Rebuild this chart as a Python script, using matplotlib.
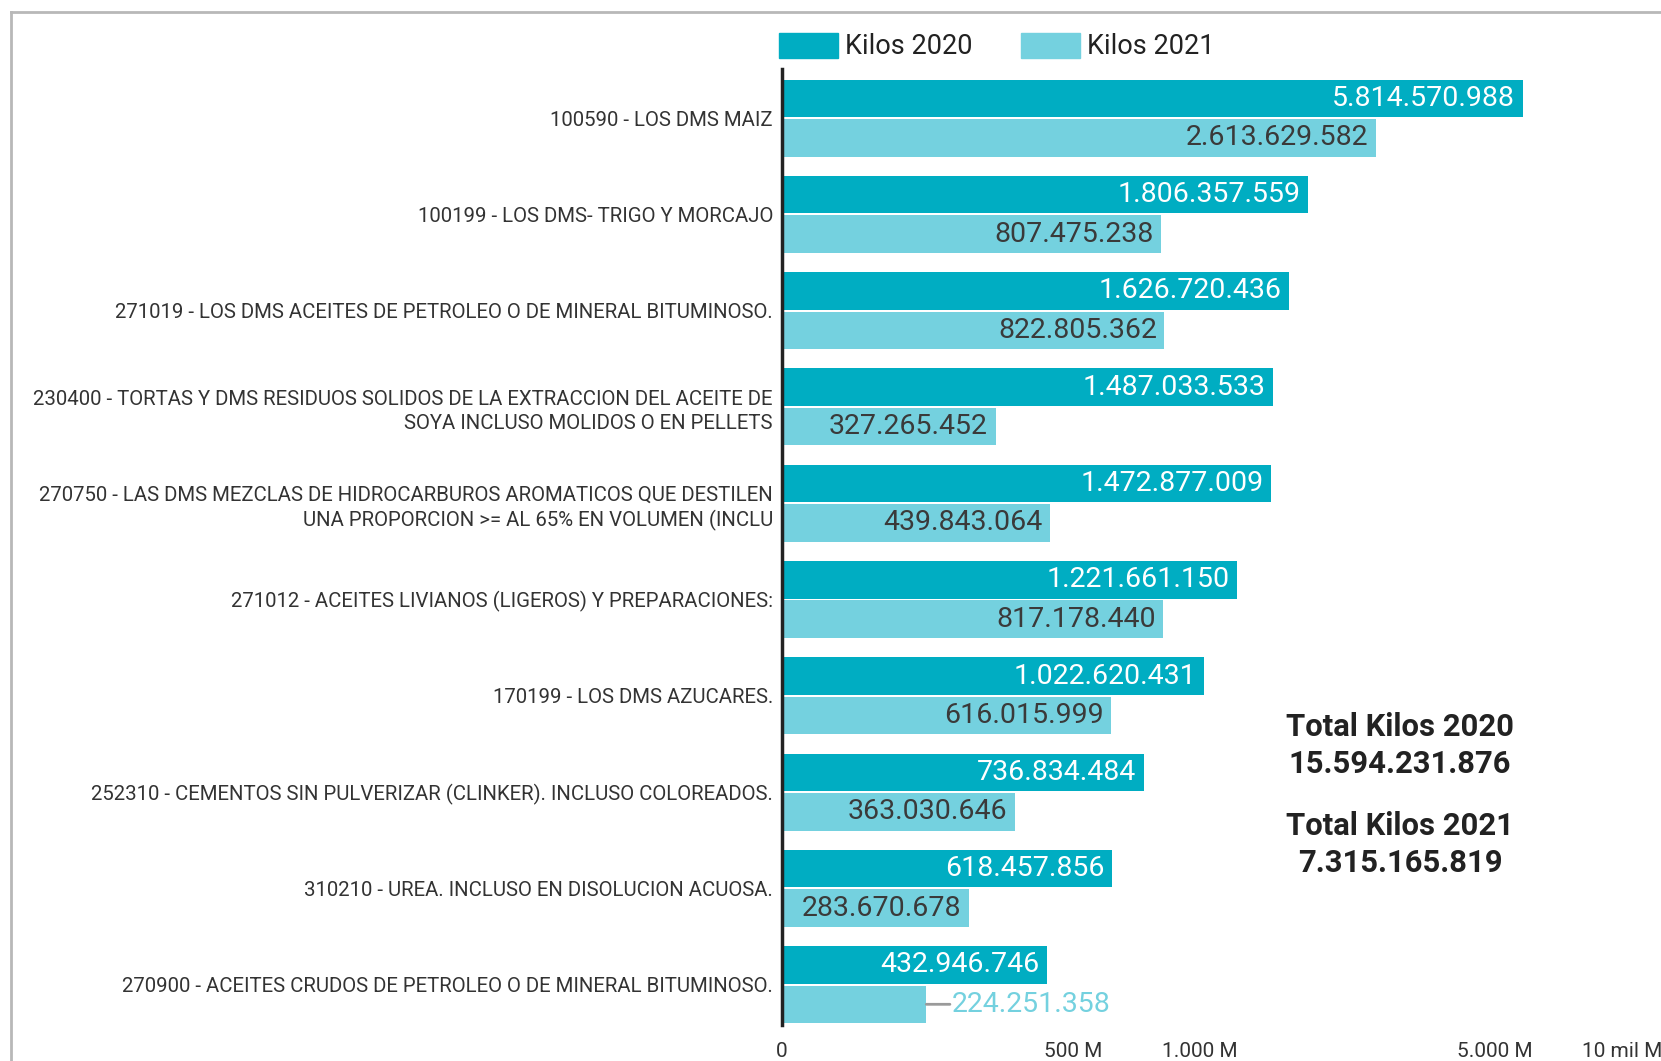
import matplotlib
matplotlib.use("Agg")
import matplotlib.pyplot as plt
from matplotlib.lines import Line2D
from matplotlib.patches import Patch
from matplotlib.ticker import NullLocator, FixedLocator, FixedFormatter
import numpy as np

categories = [
    "100590 - LOS DMS MAIZ",
    "100199 - LOS DMS- TRIGO Y MORCAJO",
    "271019 - LOS DMS ACEITES DE PETROLEO O DE MINERAL BITUMINOSO.",
    "230400 - TORTAS Y DMS RESIDUOS SOLIDOS DE LA EXTRACCION DEL ACEITE DE\nSOYA INCLUSO MOLIDOS O EN PELLETS",
    "270750 - LAS DMS MEZCLAS DE HIDROCARBUROS AROMATICOS QUE DESTILEN\nUNA PROPORCION >= AL 65% EN VOLUMEN (INCLU",
    "271012 - ACEITES LIVIANOS (LIGEROS) Y PREPARACIONES:",
    "170199 - LOS DMS AZUCARES.",
    "252310 - CEMENTOS SIN PULVERIZAR (CLINKER). INCLUSO COLOREADOS.",
    "310210 - UREA. INCLUSO EN DISOLUCION ACUOSA.",
    "270900 - ACEITES CRUDOS DE PETROLEO O DE MINERAL BITUMINOSO.",
]
kilos_2020 = [5814570988, 1806357559, 1626720436, 1487033533, 1472877009,
              1221661150, 1022620431, 736834484, 618457856, 432946746]
kilos_2021 = [2613629582, 807475238, 822805362, 327265452, 439843064,
              817178440, 616015999, 363030646, 283670678, 224251358]
series_names = ["Kilos 2020", "Kilos 2021"]
total_2020 = 15594231876
total_2021 = 7315165819
x_ticks = [1.02e8, 5e8, 1e9, 5e9, 1e10]
x_tick_labels = ["0", "500 M", "1.000 M", "5.000 M", "10 mil M"]

C2020 = "#00ADC2"
C2021 = "#74D1DF"
TXT = "#333333"

plt.rcParams['font.family'] = ['Roboto', 'DejaVu Sans']

def fmt(v):
    return f"{v:,}".replace(",", ".")

W, H = 1661, 1061
fig = plt.figure(figsize=(W / 100, H / 100), dpi=100)
ax_left, ax_top, ax_bottom = 782, 69, 1025
ax = fig.add_axes([ax_left / W, 1 - ax_bottom / H, 1 - ax_left / W, (ax_bottom - ax_top) / H])

xmin = x_ticks[0]
xmax = xmin * 10 ** ((W - ax_left) / 421.8)
ax.set_xscale('log')
ax.set_xlim(xmin, xmax)
ax.set_ylim(9.42, -0.51)

n = len(categories)
y = np.arange(n)
h = 0.39
off = 0.205
v20 = np.array(kilos_2020, dtype=float)
v21 = np.array(kilos_2021, dtype=float)
ax.barh(y - off, v20 - xmin, left=xmin, height=h, color=C2020, label=series_names[0])
ax.barh(y + off, v21 - xmin, left=xmin, height=h, color=C2021, label=series_names[1])

for s in ['top', 'right', 'bottom']:
    ax.spines[s].set_visible(False)
ax.spines['left'].set_color('#222222')
ax.spines['left'].set_linewidth(2.5)
ax.set_yticks(y)
ax.set_yticklabels(categories, fontsize=14.7, color=TXT, linespacing=1.36)
ax.tick_params(axis='y', length=0, pad=6.5)
ax.xaxis.set_major_locator(FixedLocator(x_ticks))
ax.xaxis.set_major_formatter(FixedFormatter(x_tick_labels))
ax.xaxis.set_minor_locator(NullLocator())
ax.tick_params(axis='x', length=0, pad=12, labelsize=15, labelcolor=TXT)

fig.canvas.draw()
renderer = fig.canvas.get_renderer()

def add_labels(vals, ys, inside_color, outside_color):
    for v, yy in zip(vals, ys):
        t = ax.annotate(fmt(int(v)), xy=(v, yy), xytext=(-5.5, 0), textcoords='offset points',
                        ha='right', va='center', fontsize=20.5, color=inside_color)
        tw = t.get_window_extent(renderer).width
        bar_px = ax.transData.transform((v, yy))[0] - ax.transData.transform((xmin, yy))[0]
        if tw + 12 > bar_px:
            t.remove()
            ax.annotate("", xy=(v, yy), xytext=(17, 0), textcoords='offset points',
                        arrowprops=dict(arrowstyle='-', color='#9a9a9a', lw=2,
                                        shrinkA=0, shrinkB=0))
            ax.annotate(fmt(int(v)), xy=(v, yy), xytext=(18, 0), textcoords='offset points',
                        ha='left', va='center', fontsize=20.5, color=outside_color)

add_labels(v20, y - off, 'white', C2020)
add_labels(v21, y + off, '#3a3a3a', C2021)

handles = [Patch(color=C2020), Patch(color=C2021)]
fig.legend(handles, series_names, loc='upper left', bbox_to_anchor=(779 / W, 1 - 32.5 / H),
           ncol=2, frameon=False, fontsize=19.5, handlelength=2.16, handleheight=1.06,
           handletextpad=0.27, columnspacing=1.8, borderpad=0, borderaxespad=0,
           labelcolor='#222222')

for txt, ypx in [("Total Kilos 2020", 727), (fmt(total_2020), 764),
                 ("Total Kilos 2021", 826), (fmt(total_2021), 863)]:
    fig.text(1400 / W, 1 - ypx / H, txt, ha='center', va='center',
             fontsize=22.3, fontweight='bold', color='#222222')

fig.add_artist(Line2D([11 / W, 1], [1 - 12 / H, 1 - 12 / H], transform=fig.transFigure,
                      color='#b8b8b8', lw=2))
fig.add_artist(Line2D([11 / W, 11 / W], [0, 1 - 12 / H], transform=fig.transFigure,
                      color='#b8b8b8', lw=2))

fig.savefig("out.png", dpi=100)
